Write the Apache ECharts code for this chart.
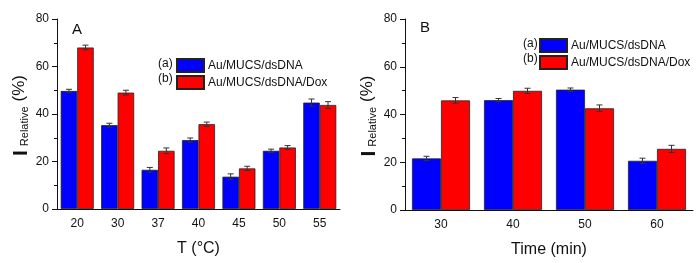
<!DOCTYPE html>
<html>
	<head>
		<meta charset="utf-8" />
		<title></title>
		<script type="text/javascript" src="https://cdn.jsdelivr.net/npm/echarts@6/dist/echarts.min.js"></script>
		<style>
			html, body { margin: 0; padding: 0; background: #fff; }
		</style>
	</head>
	<body>
		<div id="main" style="width: 700px;height: 263px;"></div>
		<script type="text/javascript">
	// panel A: temperature
	var tempCats = ['20', '30', '37', '40', '45', '50', '55'];
	var tempDna = [49.7, 35.3, 16.5, 29.0, 13.6, 24.5, 44.8];
	var tempDox = [68.0, 49.0, 24.5, 35.7, 17.1, 25.9, 43.8];
	var tempDnaErr = [0.7, 0.8, 1.0, 0.9, 1.2, 0.7, 1.5];
	var tempDoxErr = [1.0, 1.0, 1.2, 0.9, 0.9, 0.8, 1.4];
	// panel B: time
	var timeCats = ['30', '40', '50', '60'];
	var timeDna = [21.6, 46.0, 50.4, 20.6];
	var timeDox = [45.9, 49.9, 42.6, 25.6];
	var timeDnaErr = [0.9, 0.7, 0.7, 1.1];
	var timeDoxErr = [1.2, 1.1, 1.4, 1.5];
	var yTicks = [0, 20, 40, 60, 80];

	var nameA = 'Au/MUCS/dsDNA';
	var nameB = 'Au/MUCS/dsDNA/Dox';
	var font = "'Liberation Sans', Arial, sans-serif";

	var myChart = echarts.init(document.getElementById('main'));

	function yAxis(grid) {
		return {
			type: 'value', gridIndex: grid,
			min: yTicks[0], max: yTicks[yTicks.length - 1], interval: 20,
			name: '{i|I}{s|Relative}{p|(%)}',
			nameLocation: 'middle', nameGap: 20,
			nameTextStyle: {
				fontFamily: font, color: '#111',
				rich: {
					i: { fontSize: 21, lineHeight: 20, verticalAlign: 'top', fontWeight: 'bold', fontFamily: font, color: '#111', padding: [0, 4, 0, 0] },
					s: { fontSize: 11, lineHeight: 11, verticalAlign: 'bottom', fontFamily: font, color: '#111', padding: [0, 5, 0, 0] },
					p: { fontSize: 17, lineHeight: 20, verticalAlign: 'top', fontFamily: font, color: '#111', padding: [0, 3, 0, 0] }
				}
			},
			axisLine: { show: true, lineStyle: { color: '#111', width: 1 } },
			axisTick: { show: true, length: 5, lineStyle: { color: '#111' } },
			minorTick: { show: true, splitNumber: 2, length: 3, lineStyle: { color: '#111' } },
			splitLine: { show: false },
			axisLabel: { fontSize: 12, color: '#111', fontFamily: font, margin: 8 }
		};
	}

	function xAxes(grid, cats, title) {
		return [{
			type: 'category', gridIndex: grid, data: cats, position: 'bottom',
			name: title, nameLocation: 'middle', nameGap: 32,
			nameTextStyle: { fontSize: 16, color: '#111', fontFamily: font },
			axisLine: { lineStyle: { color: '#111', width: 1 } },
			axisTick: { alignWithLabel: true, length: 4, lineStyle: { color: '#111' } },
			axisLabel: { fontSize: 12, color: '#111', fontFamily: font, margin: 9 }
		}, {
			// short ticks on the category boundaries
			type: 'category', gridIndex: grid, data: cats, position: 'bottom', offset: 0,
			axisLine: { show: false },
			axisTick: { length: 2.5, lineStyle: { color: '#111' } },
			axisLabel: { show: false }
		}];
	}

	function bar(name, data, color, xi, yi, w) {
		return {
			name: name, type: 'bar', data: data, xAxisIndex: xi, yAxisIndex: yi,
			barWidth: w, barGap: '0%',
			itemStyle: { color: color, borderColor: '#222', borderWidth: 0.8 }
		};
	}

	function errors(vals, errs, xi, yi, shift) {
		var d = vals.map(function (v, i) { return [i, v, errs[i]]; });
		return {
			type: 'custom', xAxisIndex: xi, yAxisIndex: yi, data: d, z: 5, silent: true,
			renderItem: function (params, api) {
				var c = api.coord([api.value(0), api.value(1)]);
				var x = c[0] + shift;
				var hi = api.coord([api.value(0), api.value(1) + api.value(2)])[1];
				var lo = api.coord([api.value(0), api.value(1) - api.value(2)])[1];
				var st = { stroke: '#333', lineWidth: 1 };
				return {
					type: 'group', children: [
						{ type: 'line', shape: { x1: x, y1: hi, x2: x, y2: lo }, style: st },
						{ type: 'line', shape: { x1: x - 3, y1: hi, x2: x + 3, y2: hi }, style: st },
						{ type: 'line', shape: { x1: x - 3, y1: lo, x2: x + 3, y2: lo }, style: st }
					]
				};
			}
		};
	}

	function legend(left, top) {
		return {
			orient: 'vertical', left: left, top: top, padding: 0,
			icon: 'rect', itemWidth: 27, itemHeight: 13, itemGap: 2,
			data: [nameA, nameB], selectedMode: false,
			textStyle: { fontSize: 12, color: '#111', fontFamily: font, padding: [0, 0, 0, -1] }
		};
	}

	var wA = 16.5, wB = 29;

	var option = {
		animation: false,
		textStyle: { fontFamily: font },
		grid: [
			{ left: 57, top: 19, width: 283, height: 190 },
			{ left: 405, top: 19, width: 288, height: 192 }
		],
		xAxis: xAxes(0, tempCats, 'T (°C)').concat(xAxes(1, timeCats, 'Time (min)')),
		yAxis: [yAxis(0), yAxis(1)],
		legend: [legend(176, 58), legend(539, 38)],
		graphic: [
			{ type: 'text', left: 72, top: 22, style: { text: 'A', fontSize: 15, fill: '#111', fontFamily: font } },
			{ type: 'text', left: 420, top: 20, style: { text: 'B', fontSize: 15, fill: '#111', fontFamily: font } },
			{ type: 'text', left: 158, top: 58, style: { text: '(a)', fontSize: 12, fill: '#111', fontFamily: font } },
			{ type: 'text', left: 158, top: 73, style: { text: '(b)', fontSize: 12, fill: '#111', fontFamily: font } },
			{ type: 'text', left: 523, top: 38, style: { text: '(a)', fontSize: 12, fill: '#111', fontFamily: font } },
			{ type: 'text', left: 523, top: 53, style: { text: '(b)', fontSize: 12, fill: '#111', fontFamily: font } }
		],
		series: [
			bar(nameA, tempDna, '#0000ff', 0, 0, wA),
			bar(nameB, tempDox, '#ff0000', 0, 0, wA),
			errors(tempDna, tempDnaErr, 0, 0, -wA / 2),
			errors(tempDox, tempDoxErr, 0, 0, wA / 2),
			bar(nameA, timeDna, '#0000ff', 2, 1, wB),
			bar(nameB, timeDox, '#ff0000', 2, 1, wB),
			errors(timeDna, timeDnaErr, 2, 1, -wB / 2),
			errors(timeDox, timeDoxErr, 2, 1, wB / 2)
		]
	};
	myChart.setOption(option);
		</script>
	</body>
</html>
